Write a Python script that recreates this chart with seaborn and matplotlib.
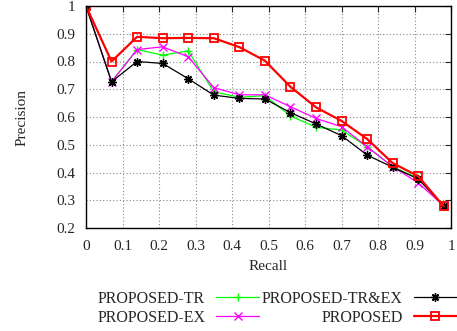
import matplotlib
matplotlib.use("Agg")
import matplotlib.pyplot as plt
import seaborn as sns
import pandas as pd

recall = [0.0, 0.07, 0.14, 0.21, 0.28, 0.35, 0.42, 0.49, 0.56, 0.63, 0.70, 0.77, 0.84, 0.91, 0.98]
proposed_tr = [1.0, 0.727, 0.843, 0.823, 0.838, 0.691, 0.671, 0.677, 0.604, 0.563, 0.553, 0.493, 0.421, 0.379, 0.28]
proposed_ex = [1.0, 0.727, 0.843, 0.853, 0.817, 0.706, 0.680, 0.680, 0.637, 0.595, 0.565, 0.493, 0.421, 0.363, 0.28]
proposed_trex = [1.0, 0.727, 0.800, 0.793, 0.738, 0.679, 0.667, 0.665, 0.616, 0.575, 0.533, 0.463, 0.419, 0.377, 0.28]
proposed = [1.0, 0.800, 0.889, 0.884, 0.885, 0.884, 0.852, 0.803, 0.709, 0.635, 0.586, 0.521, 0.434, 0.387, 0.278]

series_names = ["PROPOSED-TR", "PROPOSED-EX", "PROPOSED-TR&EX", "PROPOSED"]
series_values = [proposed_tr, proposed_ex, proposed_trex, proposed]
colors = ["#00ff00", "#ff00ff", "#000000", "#ff0000"]
markers = ["+", "x", (8, 2, 0), "s"]
x_ticks = [0, 0.1, 0.2, 0.3, 0.4, 0.5, 0.6, 0.7, 0.8, 0.9, 1]
y_ticks = [0.2, 0.3, 0.4, 0.5, 0.6, 0.7, 0.8, 0.9, 1]

sns.set_style("white")
plt.rcParams['font.family'] = ['Liberation Serif', 'DejaVu Serif']

fig = plt.figure(figsize=(4.57, 3.31), dpi=100)
ax = fig.add_axes([86/457, 1-228/331, (451-86)/457, (228-6)/331])

for name, vals, c, m in zip(series_names, series_values, colors, markers):
    df = pd.DataFrame({"Recall": recall, "Precision": vals})
    lw = 1.6 if name == "PROPOSED" else 0.9
    if m == "s":
        kw = dict(markerfacecolor="none", markeredgecolor=c, markersize=6, markeredgewidth=1.3)
    else:
        kw = dict(markersize=6, markeredgewidth=1.0, markeredgecolor=c)
    sns.lineplot(data=df, x="Recall", y="Precision", ax=ax, color=c, marker=m,
                 linewidth=lw, label=name, **kw)

ax.set_xlim(0, 1)
ax.set_ylim(0.2, 1)
ax.set_xticks(x_ticks)
ax.set_xticklabels([f"{t:g}" for t in x_ticks])
ax.set_yticks(y_ticks)
ax.set_yticklabels([f"{t:g}" for t in y_ticks])
ax.grid(True, linestyle=(0, (1, 2)), color="#888888", linewidth=0.8)
ax.tick_params(direction="in", top=True, right=True, labelsize=11, length=4)
ax.tick_params(axis="x", pad=9)
ax.tick_params(axis="y", pad=8)
for s in ax.spines.values():
    s.set_color("black")
    s.set_linewidth(1.0)
ax.set_xlabel("Recall", fontsize=11, labelpad=5)
ax.set_ylabel("Precision", fontsize=11, labelpad=20)

handles, labels = ax.get_legend_handles_labels()
ax.get_legend().remove()
fig.legend(handles, labels, ncol=2, markerfirst=False, loc="lower right",
           bbox_to_anchor=(1.0, 0.015), frameon=False, fontsize=11.5,
           handlelength=2.7, columnspacing=0.15, labelspacing=0.2, handletextpad=0.7,
           borderaxespad=0, borderpad=0)

fig.savefig("out.png", dpi=100)
